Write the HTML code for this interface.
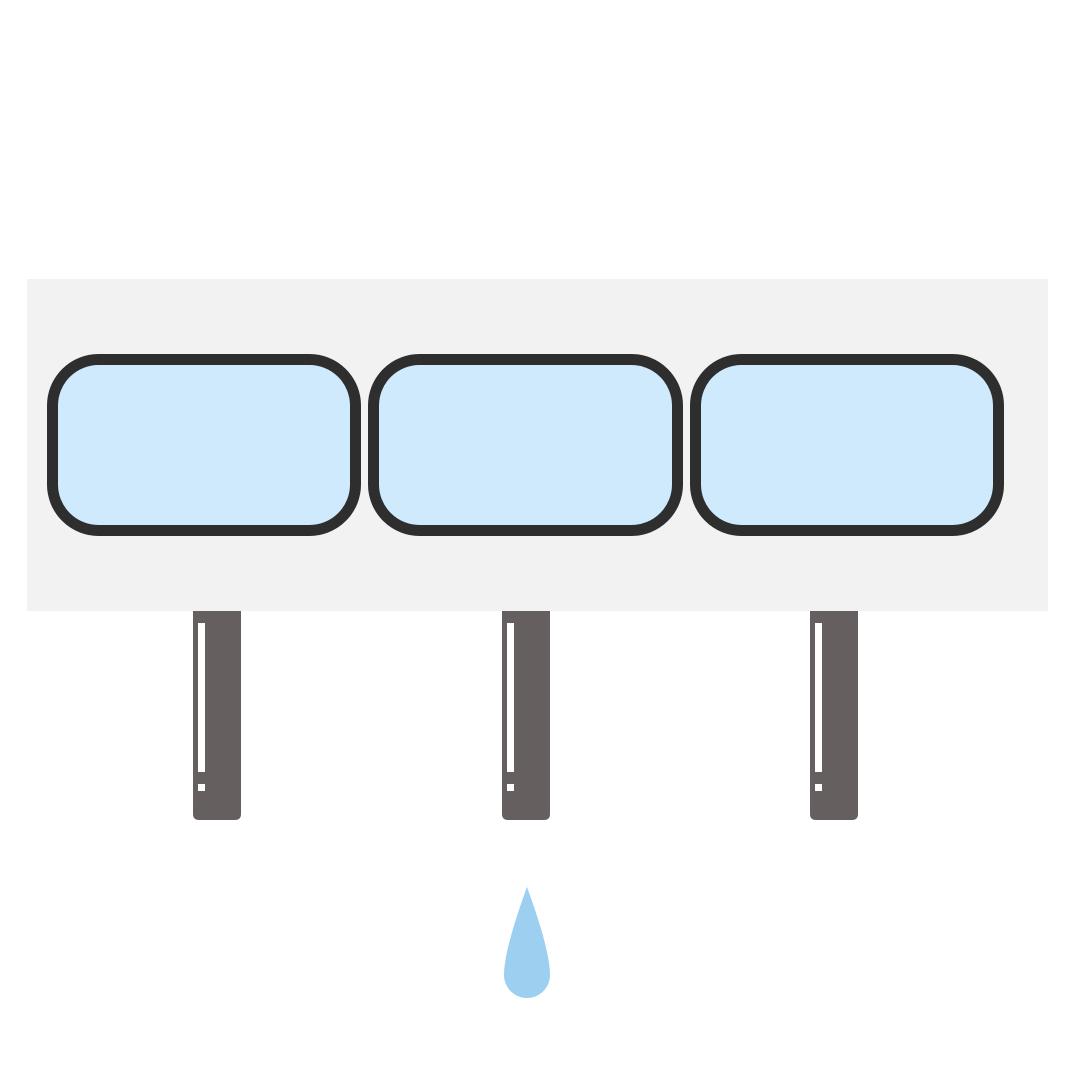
<!DOCTYPE html>
<html><head><style>html,body{margin:0;padding:0;background:#fff}svg{display:block}</style></head>
<body>
<svg width="1080" height="1080" viewBox="0 0 1080 1080" xmlns="http://www.w3.org/2000/svg">
<rect x="0" y="0" width="1080" height="1080" fill="#fff"/>
<rect x="27" y="279" width="1021" height="332" fill="#f2f2f2"/>
<g fill="#d0eafd" stroke="#2e2e2e" stroke-width="11">
<rect x="52.5" y="359.5" width="303" height="171" rx="46"/>
<rect x="373.5" y="359.5" width="304" height="171" rx="46"/>
<rect x="695.5" y="359.5" width="303" height="171" rx="46"/>
</g>
<g>
<g transform="translate(193,0)">
<path d="M0 611 H48 V814 Q48 820 42 820 H6 Q0 820 0 814 Z" fill="#665f5f"/>
<rect x="5" y="623" width="7" height="149" fill="#fff"/>
<rect x="5" y="784" width="7" height="7" fill="#fff"/>
</g>
<g transform="translate(502,0)">
<path d="M0 611 H48 V814 Q48 820 42 820 H6 Q0 820 0 814 Z" fill="#665f5f"/>
<rect x="5" y="623" width="7" height="149" fill="#fff"/>
<rect x="5" y="784" width="7" height="7" fill="#fff"/>
</g>
<g transform="translate(810,0)">
<path d="M0 611 H48 V814 Q48 820 42 820 H6 Q0 820 0 814 Z" fill="#665f5f"/>
<rect x="5" y="623" width="7" height="149" fill="#fff"/>
<rect x="5" y="784" width="7" height="7" fill="#fff"/>
</g>
</g>
<path d="M527 887 Q550 950 550 975 A23 23 0 0 1 504 975 Q504 950 527 887 Z" fill="#9ccff0"/>
</svg>
</body></html>
